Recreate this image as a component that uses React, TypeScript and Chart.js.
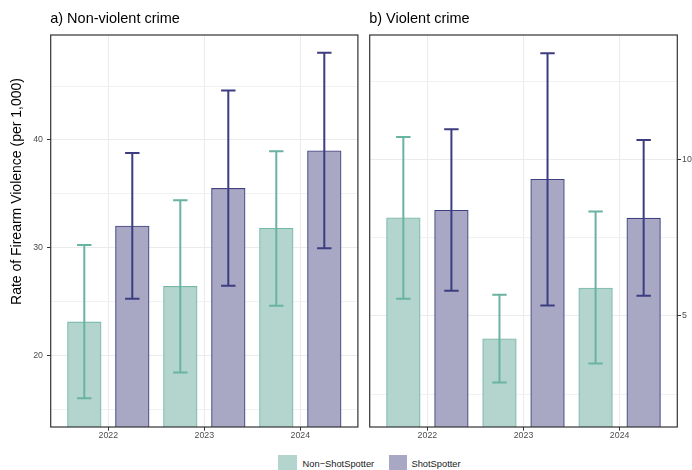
import React, { useEffect, useRef } from 'react';
import { Chart, registerables } from 'chart.js';

Chart.register(...registerables);

// ---------- data ----------
const years = ['2022', '2023', '2024'];
const groupLabels = ['Non\u2212ShotSpotter', 'ShotSpotter'];
const panelTitles = ['a) Non-violent crime', 'b) Violent crime'];
const yAxisTitle = 'Rate of Firearm Violence (per 1,000)';

// a) Non-violent crime
const nonViolentNonSS = [23.1, 26.4, 31.8];
const nonViolentNonSSLow = [16.0, 18.4, 24.6];
const nonViolentNonSSHigh = [30.25, 34.4, 38.95];
const nonViolentSS = [32.0, 35.5, 39.0];
const nonViolentSSLow = [25.25, 26.45, 29.95];
const nonViolentSSHigh = [38.8, 44.6, 48.1];

// b) Violent crime
const violentNonSS = [8.13, 4.27, 5.89];
const violentNonSSLow = [5.55, 2.87, 3.48];
const violentNonSSHigh = [10.71, 5.67, 8.33];
const violentSS = [8.37, 9.36, 8.12];
const violentSSLow = [5.8, 5.33, 5.64];
const violentSSHigh = [10.96, 13.39, 10.62];

// axis ticks
const leftYRange = [13.34, 49.75];
const leftYMajor = [20, 30, 40];
const leftYMinor = [15, 25, 35, 45];
const rightYRange = [1.45, 13.97];
const rightYMajor = [5, 10];
const rightYMinor = [2.5, 7.5, 12.5];

// ---------- style ----------
const FONT = "'Liberation Sans', Arial, Helvetica, sans-serif";
const NON_FILL = '#b3d5cd';
const NON_BORDER = '#74b9a7';
const NON_ERR = '#69b3a2';
const SS_FILL = '#a8a8c4';
const SS_BORDER = '#404080';
const SS_ERR = '#3c3c80';
const GRID = '#ebebeb';
const GRID_MINOR = '#f1f1f1';
const AXIS_DARK = '#333333';
const TICK_TEXT = '#4d4d4d';

const panelPlugin = {
  id: 'panelDecor',
  afterDatasetsDraw(chart: any, _args: any, opts: any) {
    const { ctx, chartArea: a, scales } = chart;
    const x = scales.x;
    const y = scales.y;
    const half = Math.abs(x.getPixelForValue(opts.capHalf) - x.getPixelForValue(0));
    ctx.save();
    ctx.beginPath();
    ctx.rect(a.left, a.top, a.right - a.left, a.bottom - a.top);
    ctx.clip();
    chart.data.datasets.forEach((ds: any, di: number) => {
      const meta = chart.getDatasetMeta(di);
      ctx.strokeStyle = ds.errColor;
      ctx.lineWidth = 2;
      ctx.lineCap = 'butt';
      meta.data.forEach((el: any, i: number) => {
        const cx = el.x;
        const y1 = y.getPixelForValue(ds.errLow[i]);
        const y2 = y.getPixelForValue(ds.errHigh[i]);
        ctx.beginPath();
        ctx.moveTo(cx, y1);
        ctx.lineTo(cx, y2);
        ctx.moveTo(cx - half, y1);
        ctx.lineTo(cx + half, y1);
        ctx.moveTo(cx - half, y2);
        ctx.lineTo(cx + half, y2);
        ctx.stroke();
      });
    });
    ctx.restore();
  },
  afterDraw(chart: any, _args: any, opts: any) {
    const { ctx, chartArea: a } = chart;
    ctx.save();
    ctx.strokeStyle = AXIS_DARK;
    ctx.lineWidth = 1.2;
    ctx.strokeRect(a.left, a.top, a.right - a.left, a.bottom - a.top);
    ctx.fillStyle = '#000';
    ctx.font = `14.5px ${FONT}`;
    ctx.textAlign = 'left';
    ctx.textBaseline = 'alphabetic';
    ctx.fillText(opts.title, a.left - 0.5, 22.7);
    if (opts.yTitle) {
      ctx.translate(opts.yTitleX, opts.yTitleY);
      ctx.rotate(-Math.PI / 2);
      ctx.textAlign = 'center';
      ctx.textBaseline = 'middle';
      ctx.font = `14px ${FONT}`;
      ctx.fillText(opts.yTitle, 0, 0);
    }
    ctx.restore();
  },
};

type Series = {
  label: string;
  values: number[];
  low: number[];
  high: number[];
  fill: string;
  border: string;
  err: string;
  offset: number;
};

type PanelProps = {
  title: string;
  series: Series[];
  yRange: number[];
  major: number[];
  minor: number[];
  side: 'left' | 'right';
  yTitle?: string;
  width: number;
  height: number;
  left: number;
  areaLeft: number;
  areaRight: number;
};

function Panel(p: PanelProps) {
  const ref = useRef<HTMLCanvasElement | null>(null);
  useEffect(() => {
    if (!ref.current) return;
    const allY = [...p.major, ...p.minor].sort((a, b) => a - b);
    const isMajor = (v: number) => p.major.some((m) => Math.abs(m - v) < 1e-6);
    const yAxisWidth = p.side === 'left' ? p.areaLeft : p.width - p.areaRight;
    const chart = new Chart(ref.current, {
      type: 'bar',
      data: {
        datasets: p.series.map((s) => ({
          label: s.label,
          data: s.values.map((v, i) => ({ x: i + s.offset, y: v })),
          backgroundColor: s.fill,
          borderColor: s.border,
          borderWidth: 1.1,
          barThickness: 33.6,
          grouped: false,
          errLow: s.low,
          errHigh: s.high,
          errColor: s.err,
        })) as any,
      },
      options: {
        responsive: false,
        animation: false,
        events: [],
        layout: {
          padding: {
            left: p.side === 'left' ? 0 : p.areaLeft,
            right: p.side === 'left' ? p.width - p.areaRight : 0,
            top: 35,
            bottom: 0,
          },
        },
        scales: {
          x: {
            type: 'linear',
            min: -0.6,
            max: 2.6,
            offset: false,
            afterBuildTicks: (s: any) => {
              s.ticks = years.map((_, i) => ({ value: i }));
            },
            afterFit: (s: any) => {
              s.height = p.height - 427;
            },
            ticks: {
              autoSkip: false,
              maxRotation: 0,
              padding: 0,
              color: TICK_TEXT,
              font: { family: FONT, size: 8.8 },
              callback: (v: any) => years[Math.round(Number(v))] ?? '',
            },
            grid: {
              offset: false,
              color: GRID,
              lineWidth: 1,
              tickColor: AXIS_DARK,
              tickLength: 3.7,
              tickWidth: 1,
            },
            border: { display: false },
          },
          y: {
            type: 'linear',
            position: p.side,
            min: p.yRange[0],
            max: p.yRange[1],
            afterBuildTicks: (s: any) => {
              s.ticks = allY.map((v) => ({ value: v }));
            },
            afterFit: (s: any) => {
              s.width = yAxisWidth;
            },
            ticks: {
              padding: p.side === 'left' ? 4 : 1,
              color: TICK_TEXT,
              font: { family: FONT, size: 8.8 },
              callback: (v: any) => (isMajor(Number(v)) ? String(v) : ''),
            },
            grid: {
              color: (c: any) => (isMajor(c.tick?.value) ? GRID : GRID_MINOR),
              lineWidth: 1,
              tickColor: (c: any) => (isMajor(c.tick?.value) ? AXIS_DARK : 'rgba(0,0,0,0)'),
              tickLength: 3.7,
              tickWidth: 1,
            },
            border: { display: false },
          },
        },
        plugins: {
          legend: { display: false },
          tooltip: { enabled: false },
          panelDecor: {
            title: p.title,
            yTitle: p.yTitle,
            yTitleX: 16.7,
            yTitleY: 191.5,
            capHalf: 0.075,
          },
        } as any,
      },
      plugins: [panelPlugin as any],
    });
    return () => chart.destroy();
  }, []);
  return (
    <canvas
      ref={ref}
      width={p.width}
      height={p.height}
      style={{ position: 'absolute', left: p.left, top: 0, width: p.width, height: p.height }}
    />
  );
}

export default function App() {
  const H = 445;
  const leftSeries: Series[] = [
    { label: groupLabels[0], values: nonViolentNonSS, low: nonViolentNonSSLow, high: nonViolentNonSSHigh, fill: NON_FILL, border: NON_BORDER, err: NON_ERR, offset: -0.25 },
    { label: groupLabels[1], values: nonViolentSS, low: nonViolentSSLow, high: nonViolentSSHigh, fill: SS_FILL, border: SS_BORDER, err: SS_ERR, offset: 0.25 },
  ];
  const rightSeries: Series[] = [
    { label: groupLabels[0], values: violentNonSS, low: violentNonSSLow, high: violentNonSSHigh, fill: NON_FILL, border: NON_BORDER, err: NON_ERR, offset: -0.25 },
    { label: groupLabels[1], values: violentSS, low: violentSSLow, high: violentSSHigh, fill: SS_FILL, border: SS_BORDER, err: SS_ERR, offset: 0.25 },
  ];
  return (
    <div
      style={{
        position: 'absolute',
        left: 0,
        top: 0,
        width: 692,
        height: 470,
        overflow: 'hidden',
        background: '#fff',
        fontFamily: FONT,
      }}
    >
      <Panel
        title={panelTitles[0]}
        series={leftSeries}
        yRange={leftYRange}
        major={leftYMajor}
        minor={leftYMinor}
        side="left"
        yTitle={yAxisTitle}
        width={362}
        height={H}
        left={0}
        areaLeft={50.7}
        areaRight={357.9}
      />
      <Panel
        title={panelTitles[1]}
        series={rightSeries}
        yRange={rightYRange}
        major={rightYMajor}
        minor={rightYMinor}
        side="right"
        width={330}
        height={H}
        left={362}
        areaLeft={7.7}
        areaRight={315.3}
      />
      <div
        style={{
          position: 'absolute',
          left: 278.3,
          top: 455,
          height: 17,
          display: 'flex',
          alignItems: 'center',
          fontSize: 9.3,
          color: '#1a1a1a',
          whiteSpace: 'nowrap',
        }}
      >
        <span style={{ display: 'inline-block', width: 18.3, height: 17, background: NON_FILL }} />
        <span style={{ marginLeft: 6, marginRight: 14.5 }}>{groupLabels[0]}</span>
        <span style={{ display: 'inline-block', width: 18.3, height: 17, background: SS_FILL }} />
        <span style={{ marginLeft: 4.5 }}>{groupLabels[1]}</span>
      </div>
    </div>
  );
}
